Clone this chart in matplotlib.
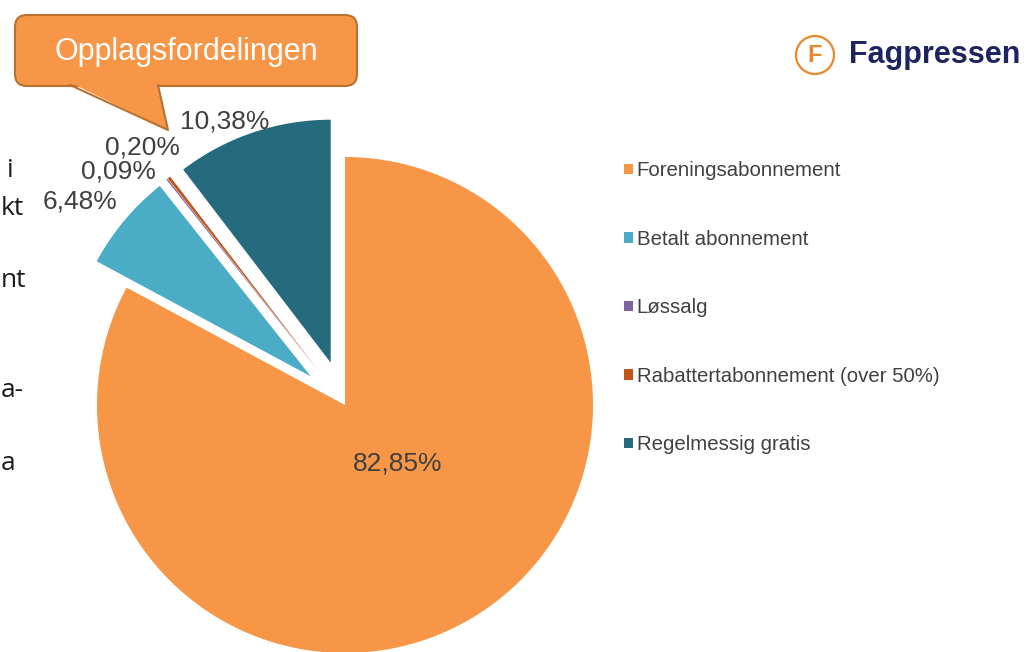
import matplotlib.pyplot as plt
from matplotlib.patches import FancyBboxPatch, Polygon, Circle

# Dati
kategorier = ["Foreningsabonnement", "Betalt abonnement", "Løssalg",
              "Rabattertabonnement (over 50%)", "Regelmessig gratis"]
andeler = [82.85, 6.48, 0.09, 0.20, 10.38]
farger = ["#F79646", "#4BACC6", "#8064A2", "#C0561A", "#266B7D"]
eksplodert = [0.0, 0.18, 0.18, 0.18, 0.18]   # andel av radius

H = 652  # figurhøyde i piksler, brukes for å regne y fra toppen
R = 248  # radius i piksler

fig = plt.figure(figsize=(10.27, 6.52), dpi=100)
ax = fig.add_axes([0, 0, 1, 1])

# Kakediagram (med klokka, start på toppen)
# explode i pie er i dataenheter, derfor ganges med radius
wedges, _ = ax.pie(andeler, colors=farger,
                   explode=[e * R for e in eksplodert],
                   startangle=90, counterclock=False,
                   center=(345, H - 405), radius=R)
# de utskilte bitene er litt mindre i originalen
for w in wedges[1:]:
    w.set_radius(R - 5)

ax.set_xlim(0, 1027)
ax.set_ylim(0, H)
ax.set_aspect("equal")
ax.axis("off")

# Prosent-etiketter
def fmt(v):
    return f"{v:.2f}%".replace(".", ",")

etikett_pos = [(398, 463), (80, 201), (118, 172), (142, 148), (225, 122)]
for v, (x, y) in zip(andeler, etikett_pos):
    ax.text(x, H - y, fmt(v), ha="center", va="center", fontsize=19,
            color="#404040", family="Liberation Sans")

# Legende
leg = ax.legend(wedges, kategorier, loc="upper left",
                bbox_to_anchor=(0.5978, 0.768), frameon=False,
                prop={"family": "Liberation Sans", "size": 14.7},
                labelspacing=2.42, handlelength=0.42, handleheight=0.42,
                handletextpad=0.2, borderpad=0)
for t in leg.get_texts():
    t.set_color("#404040")

# Snakkeboble med tittel
boble_farge = "#F79646"
kant = "#B9712F"
ax.add_patch(FancyBboxPatch((15, H - 86), 342, 71,
                            boxstyle="round,pad=0,rounding_size=12",
                            facecolor=boble_farge, edgecolor=kant, lw=1.5))
spiss = [(70, H - 85), (158, H - 85), (168, H - 130)]
ax.add_patch(Polygon([(71, H - 83), (157, H - 83), (168, H - 130)],
                     closed=True, facecolor=boble_farge, edgecolor="none"))
ax.plot([spiss[0][0], spiss[2][0], spiss[1][0]],
        [spiss[0][1], spiss[2][1], spiss[1][1]], color=kant, lw=1.5)
ax.text(186, H - 52, "Opplagsfordelingen", ha="center", va="center",
        fontsize=22, color="white", family="Liberation Sans")

# Logo
ax.add_patch(Circle((815, H - 55), 19, facecolor="none",
                    edgecolor="#E8892B", lw=1.6))
ax.text(815, H - 55, "F", ha="center", va="center", fontsize=17,
        fontweight="bold", color="#E8892B", family="Liberation Sans")
ax.text(849, H - 55, "Fagpressen", ha="left", va="center", fontsize=22,
        fontweight="bold", color="#1E2460", family="Liberation Sans")

# Avkuttet tekst i venstre marg (bare det som synes)
venstre = [("i", 7, 177), ("kt", 1, 215), ("nt", 1, 287),
           ("a-", 1, 397), ("a", 1, 470)]
for tekst, x, y in venstre:
    ax.text(x, H - y, tekst, ha="left", va="baseline", fontsize=19,
            color="#1a1a1a", family="Open Sans")

fig.savefig("out.png", dpi=100)
